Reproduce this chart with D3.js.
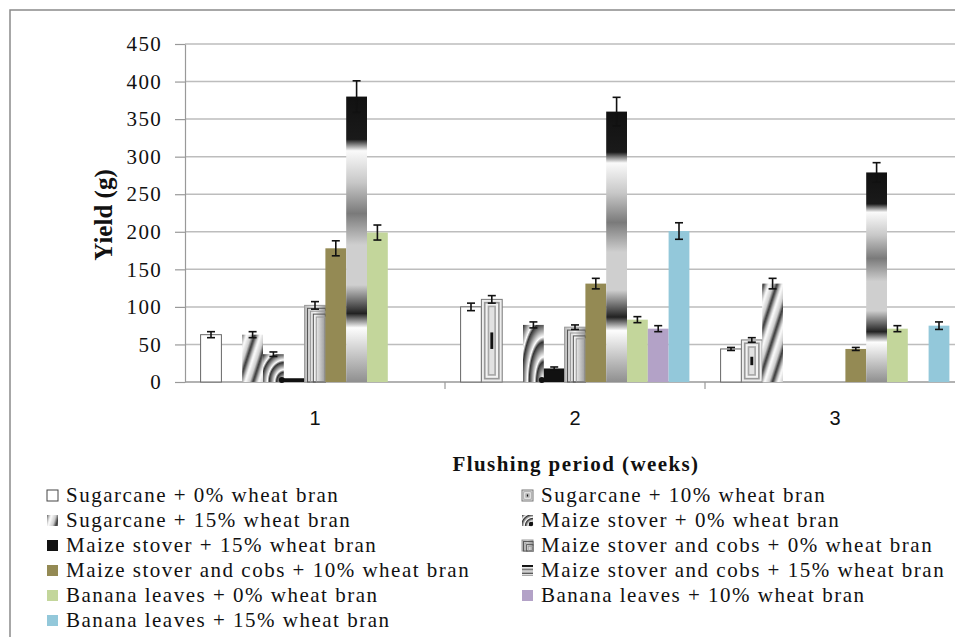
<!DOCTYPE html>
<html>
<head>
<meta charset="utf-8">
<title>Yield by flushing period</title>
<style>
  body { margin: 0; background: #fff; }
  svg text { fill: #111; }
</style>
</head>
<body>
<main></main>
<script src="https://cdn.jsdelivr.net/npm/d3@7"></script>
<script>
// weeks on the x axis
var categories = ["1", "2", "3"];

// substrate treatments (legend order)
var seriesNames = [
    "Sugarcane + 0% wheat bran",
    "Sugarcane + 10% wheat bran",
    "Sugarcane + 15% wheat bran",
    "Maize stover + 0% wheat bran",
    "Maize stover + 15% wheat bran",
    "Maize stover and cobs + 0% wheat bran",
    "Maize stover and cobs + 10% wheat bran",
    "Maize stover and cobs + 15% wheat bran",
    "Banana leaves + 0% wheat bran",
    "Banana leaves + 10% wheat bran",
    "Banana leaves + 15% wheat bran"
];

// mean yield (g) per treatment, one array per week
var yieldWeek1 = [63, 0, 63, 37, 5, 102, 178, 380, 199, 0, 0];
var yieldWeek2 = [100, 110, 0, 76, 18, 73, 131, 360, 83, 71, 201];
var yieldWeek3 = [44, 56, 131, 0, 0, 0, 44, 279, 71, 0, 75];

// error bar half-lengths
var errWeek1 = [4, 0, 4, 3, 0, 5, 10, 21, 10, 0, 0];
var errWeek2 = [5, 5, 0, 4, 2, 3, 7, 19, 4, 4, 11];
var errWeek3 = [2, 3, 7, 0, 0, 0, 2, 13, 4, 0, 5];

var yTicks = [0, 50, 100, 150, 200, 250, 300, 350, 400, 450];

var yields = [yieldWeek1, yieldWeek2, yieldWeek3];
var errs = [errWeek1, errWeek2, errWeek3];

var width = 955, height = 637;
var serif = "'Liberation Serif', 'Times New Roman', serif";

var svg = d3.select("main").append("svg")
    .attr("width", width)
    .attr("height", height)
    .style("display", "block");

var defs = svg.append("defs");

// ---- fills ----
// diagonal streaks (sugarcane 15%)
var streak = defs.append("linearGradient").attr("id", "streakGrad")
    .attr("x1", 0).attr("x2", 1).attr("y1", 0).attr("y2", 0);
[[0, "#fff"], [0.35, "#ccc"], [0.6, "#333"], [0.8, "#aaa"], [1, "#fff"]].forEach(function (s) {
    streak.append("stop").attr("offset", s[0]).attr("stop-color", s[1]);
});
var pat = defs.append("pattern").attr("id", "streaks")
    .attr("patternUnits", "userSpaceOnUse")
    .attr("width", 13).attr("height", 40)
    .attr("patternTransform", "rotate(18)");
pat.append("rect").attr("width", 13).attr("height", 40).attr("fill", "url(#streakGrad)");

// arcs from bottom-right corner (maize stover 0%)
var arcs = defs.append("radialGradient").attr("id", "arcs")
    .attr("cx", 1).attr("cy", 1).attr("r", 0.35).attr("fx", 1).attr("fy", 1)
    .attr("spreadMethod", "repeat");
[[0, "#333"], [0.25, "#fff"], [0.55, "#aaa"], [0.8, "#666"], [1, "#333"]].forEach(function (s) {
    arcs.append("stop").attr("offset", s[0]).attr("stop-color", s[1]);
});

// vertical banded gradient (maize stover and cobs 15%)
var band = defs.append("linearGradient").attr("id", "bandGrad")
    .attr("x1", 0).attr("x2", 0).attr("y1", 0).attr("y2", 1);
[[0, "#111"], [0.15, "#1a1a1a"], [0.19, "#fafafa"], [0.3, "#c8c8c8"], [0.41, "#7a7a7a"],
 [0.52, "#cfcfcf"], [0.66, "#cfcfcf"], [0.76, "#222"], [0.81, "#fdfdfd"], [1, "#8f8f8f"]].forEach(function (s) {
    band.append("stop").attr("offset", s[0]).attr("stop-color", s[1]);
});

// side shading for the framed bars
var side = defs.append("linearGradient").attr("id", "sideGrad")
    .attr("x1", 0).attr("x2", 1).attr("y1", 0).attr("y2", 0);
[[0, "#bbb"], [0.5, "#f4f4f4"], [1, "#999"]].forEach(function (s) {
    side.append("stop").attr("offset", s[0]).attr("stop-color", s[1]);
});

var plainFill = ["#fff", null, "url(#streaks)", "url(#arcs)", "#111", null,
                 "#948a54", "url(#bandGrad)", "#c3d69b", "#b3a2c7", "#93c8da"];

// draws one bar (or legend swatch) in the box x,y,w,h
function drawMark(g, s, x, y, w, h) {
    if (h <= 0) return;
    if (s === 1) {
        // concentric frames
        var rings = [[0, "#eee"], [0.12, "#9a9a9a"], [0.2, "#f2f2f2"], [0.3, "#a8a8a8"], [0.38, "#e2e2e2"]];
        rings.forEach(function (r) {
            var d = r[0] * w;
            if (w - 2 * d <= 0 || h - 2 * d <= 0) return;
            g.append("rect").attr("x", x + d).attr("y", y + d)
                .attr("width", w - 2 * d).attr("height", h - 2 * d)
                .attr("fill", r[1]).attr("stroke", d === 0 ? "#777" : "none")
                .attr("stroke-width", 1);
        });
        g.append("rect").attr("x", x + w * 0.43).attr("y", y + h * 0.4)
            .attr("width", w * 0.14).attr("height", Math.max(1, h * 0.2)).attr("fill", "#111");
    } else if (s === 5) {
        // nested frames sharing the bottom-right corner
        g.append("rect").attr("x", x).attr("y", y).attr("width", w).attr("height", h)
            .attr("fill", "url(#sideGrad)");
        for (var k = 0; k < 5; k++) {
            var d = k * w * 0.14;
            if (w - d <= 0 || h - d <= 0) break;
            g.append("rect").attr("x", x + d).attr("y", y + d)
                .attr("width", w - d).attr("height", h - d)
                .attr("fill", "none").attr("stroke", k % 2 ? "#555" : "#999")
                .attr("stroke-width", 1);
        }
    } else {
        g.append("rect").attr("x", x).attr("y", y).attr("width", w).attr("height", h)
            .attr("fill", plainFill[s])
            .attr("stroke", s === 0 ? "#666" : "none")
            .attr("stroke-width", 1);
        if (s === 3) {
            g.append("circle").attr("cx", x + w - 2).attr("cy", y + h - 2)
                .attr("r", Math.min(3, w / 5)).attr("fill", "#111");
        }
    }
}

// ---- outer frame ----
svg.append("rect")
    .attr("x", 10).attr("y", 10)
    .attr("width", 980).attr("height", 660)
    .attr("fill", "none").attr("stroke", "#8a8a8a").attr("stroke-width", 1.5);

// ---- scales ----
var plot = {left: 185, right: 965, top: 44, bottom: 382};

var x0 = d3.scaleBand()
    .domain(categories)
    .range([plot.left, plot.right])
    .padding(0);

var x1 = d3.scaleBand()
    .domain(d3.range(seriesNames.length))
    .range([0, x0.bandwidth()])
    .paddingInner(0)
    .paddingOuter(0.75);

var y = d3.scaleLinear()
    .domain([0, 450])
    .range([plot.bottom, plot.top]);

// gridlines
svg.append("g").selectAll("line")
    .data(yTicks.slice(1))
    .enter().append("line")
    .attr("x1", plot.left).attr("x2", plot.right)
    .attr("y1", function (d) { return y(d); })
    .attr("y2", function (d) { return y(d); })
    .attr("stroke", "#bdbdbd").attr("stroke-width", 1.5);

// y axis
var yAxis = svg.append("g")
    .attr("transform", "translate(" + plot.left + ",0)")
    .call(d3.axisLeft(y).tickValues(yTicks).tickSize(10).tickSizeOuter(0).tickPadding(13));
yAxis.select(".domain").attr("stroke", "#999").attr("stroke-width", 1.2);
yAxis.selectAll(".tick line").attr("stroke", "#999").attr("stroke-width", 1.2);
yAxis.selectAll(".tick text")
    .attr("font-family", serif)
    .attr("font-size", 21)
    .attr("letter-spacing", 1.3)
    .attr("fill", "#222");

// x axis
var xAxis = svg.append("g");
xAxis.append("line")
    .attr("x1", plot.left).attr("x2", plot.right)
    .attr("y1", plot.bottom).attr("y2", plot.bottom)
    .attr("stroke", "#999").attr("stroke-width", 1.5);
xAxis.selectAll(".xt")
    .data(categories)
    .enter().append("line")
    .attr("class", "xt")
    .attr("x1", function (d) { return x0(d) + x0.bandwidth(); })
    .attr("x2", function (d) { return x0(d) + x0.bandwidth(); })
    .attr("y1", plot.bottom).attr("y2", plot.bottom + 7)
    .attr("stroke", "#999").attr("stroke-width", 1.2);
xAxis.selectAll(".xl")
    .data(categories)
    .enter().append("text")
    .attr("class", "xl")
    .attr("x", function (d) { return x0(d) + x0.bandwidth() / 2; })
    .attr("y", 425)
    .attr("text-anchor", "middle")
    .attr("font-family", "'Liberation Sans', Arial, sans-serif")
    .attr("font-size", 20)
    .text(function (d) { return d; });

// ---- bars ----
var groups = svg.append("g").selectAll("g")
    .data(categories)
    .enter().append("g");

groups.each(function (c, ci) {
    var g = d3.select(this);
    yields[ci].forEach(function (v, s) {
        if (v <= 0) return;
        drawMark(g, s, x0(c) + x1(s), y(v), x1.bandwidth(), y(0) - y(v));
    });
    // error bars on top
    yields[ci].forEach(function (v, s) {
        var e = errs[ci][s];
        if (v <= 0 || e <= 0) return;
        var cx = x0(c) + x1(s) + x1.bandwidth() / 2;
        var eb = g.append("g").attr("stroke", "#111").attr("stroke-width", 1.6);
        eb.append("line").attr("x1", cx).attr("x2", cx).attr("y1", y(v + e)).attr("y2", y(v - e));
        eb.append("line").attr("x1", cx - 4).attr("x2", cx + 4).attr("y1", y(v + e)).attr("y2", y(v + e));
        eb.append("line").attr("x1", cx - 4).attr("x2", cx + 4).attr("y1", y(v - e)).attr("y2", y(v - e));
    });
});

// ---- axis titles ----
svg.append("text")
    .attr("x", 576).attr("y", 471)
    .attr("text-anchor", "middle")
    .attr("font-family", serif)
    .attr("font-weight", "bold")
    .attr("font-size", 21)
    .attr("letter-spacing", 1.4)
    .text("Flushing period (weeks)");

svg.append("text")
    .attr("transform", "translate(112,215) rotate(-90)")
    .attr("text-anchor", "middle")
    .attr("font-family", serif)
    .attr("font-weight", "bold")
    .attr("font-size", 25)
    .text("Yield (g)");

// ---- legend ----
var legend = svg.append("g").selectAll("g")
    .data(seriesNames)
    .enter().append("g");

legend.each(function (name, i) {
    var col = i % 2, row = Math.floor(i / 2);
    var sxPos = col === 0 ? 47 : 522;
    var base = 502 + row * 25;
    var g = d3.select(this);
    drawMark(g, i, sxPos, base - 12, 11, 11);
    if (i === 0) {
        g.select("rect").attr("stroke", "#444");
    }
    g.append("text")
        .attr("x", sxPos + 19)
        .attr("y", base)
        .attr("font-family", serif)
        .attr("font-size", 21)
        .attr("letter-spacing", 1.5)
        .text(name);
});
</script>
</body>
</html>
